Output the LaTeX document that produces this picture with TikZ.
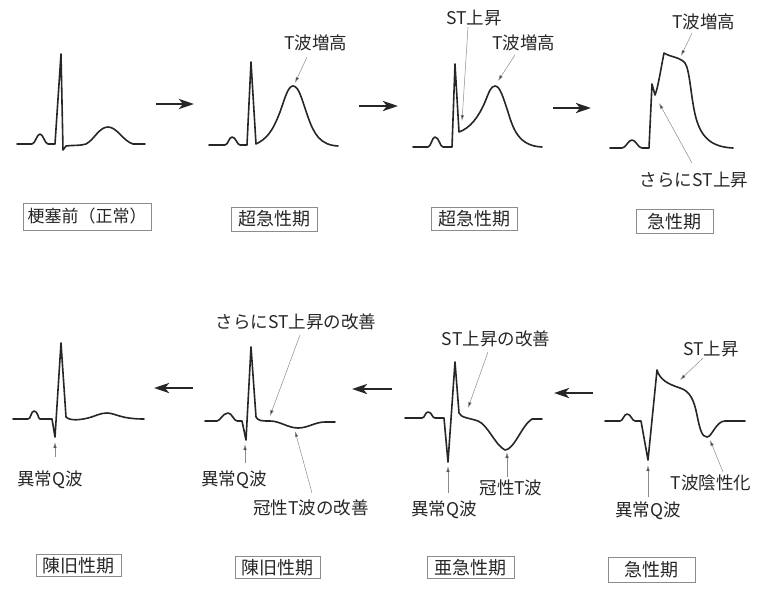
\documentclass[tikz,border=0pt]{standalone}
\usepackage{fontspec}
\setmainfont{Noto Sans CJK JP}
\usetikzlibrary{arrows.meta}
\tikzset{
  ecg/.style={line width=1.6pt, line join=round, line cap=round, black!85},
  bigarrow/.style={line width=2.8pt, black!85, -{Stealth[length=15pt,width=10pt,inset=4pt]}},
  ptr/.style={line width=0.5pt, black!45, -{Latex[length=6pt,width=3.5pt,fill=black!80]}},
  lbl/.style={inner sep=0pt, font=\fontsize{17.5}{19}\selectfont, text=black!85},
  stagebox/.style={draw=black!45, line width=0.6pt, inner sep=0pt, font=\fontsize{18}{19}\selectfont, text=black!85}
}
\begin{document}
\begin{tikzpicture}[x=1pt,y=-1pt]
\useasboundingbox (0,0) rectangle (761,592);
% ---------- top row ----------
% panel 1 normal
\draw[ecg] (17,144) -- (32,144) .. controls (35,144) and (37,134) .. (40,134) .. controls (43,134) and (45,144) .. (48,144) -- (55,144) -- (61,54) -- (63,150) -- (66,146) .. controls (72,145) and (80,146) .. (86,144) .. controls (94,140) and (99,127) .. (108,127) .. controls (117,127) and (123,141) .. (133,144) -- (145,144);
% panel 2
\draw[ecg] (209,145) -- (225,145) .. controls (228,145) and (229,137) .. (232,137) .. controls (236,137) and (237,145) .. (240,145) -- (247,145) -- (251,62) -- (256,144) .. controls (266,139) and (272,133) .. (280,112) .. controls (285,98) and (288,86) .. (293,86) .. controls (299,86) and (302,100) .. (308,117) .. controls (314,134) and (320,145) .. (338,146);
% panel 3
\draw[ecg] (413,147) -- (428,147) .. controls (431,147) and (432,137) .. (435,137) .. controls (439,137) and (440,147) .. (443,147) -- (452,147) -- (455,64) -- (459,132) .. controls (470,128) and (478,118) .. (485,102) .. controls (489,92) and (491,86) .. (495,86) .. controls (500,86) and (503,97) .. (508,112) .. controls (513,128) and (518,146) .. (542,147);
% panel 4
\draw[ecg] (610,148) -- (622,148) .. controls (626,148) and (628,140) .. (632,140) .. controls (636,140) and (638,148) .. (642,148) -- (649,148) -- (652,84) -- (655,95) .. controls (658,88) and (661,68) .. (664,53) .. controls (670,57) and (680,57) .. (685,63) .. controls (690,70) and (691,100) .. (696,118) .. controls (701,136) and (710,147) .. (733,148);

% big arrows top
\coordinate (ta1s) at (156,104); \coordinate (ta1e) at (194,104);
\coordinate (ta2s) at (359,106); \coordinate (ta2e) at (398,106);
\coordinate (ta3s) at (553,108); \coordinate (ta3e) at (591,108);
\draw[bigarrow] (ta1s) -- (ta1e);
\draw[bigarrow] (ta2s) -- (ta2e);
\draw[bigarrow] (ta3s) -- (ta3e);

% labels top
\node[lbl] (l2) at (316,43) {T波増高};
\coordinate (l2s) at (307,57); \coordinate (l2e) at (295,83);
\draw[ptr] (l2s) -- (l2e);

\node[lbl] (l3a) at (474,18) {ST上昇};
\coordinate (l3as) at (468,27); \coordinate (l3ae) at (462,121);
\draw[ptr] (l3as) -- (l3ae);
\node[lbl] (l3b) at (524,43) {T波増高};
\coordinate (l3bs) at (515,55); \coordinate (l3be) at (498,81);
\draw[ptr] (l3bs) -- (l3be);

\node[lbl] (l4a) at (704,22) {T波増高};
\coordinate (l4as) at (692,33); \coordinate (l4ae) at (681,56);
\draw[ptr] (l4as) -- (l4ae);
\node[lbl] (l4b) at (694,180) {さらにST上昇};
\coordinate (l4bs) at (692,163); \coordinate (l4be) at (659,103);
\draw[ptr] (l4bs) -- (l4be);

% boxes top
\node[stagebox, minimum width=128pt, minimum height=27pt, font=\fontsize{17}{19}\selectfont] (b1) at (87,216.5) {梗塞前（正常）};
\node[stagebox, minimum width=86pt, minimum height=24pt] (b2) at (274,219) {超急性期};
\node[stagebox, minimum width=86pt, minimum height=23pt] (b3) at (474,219) {超急性期};
\node[stagebox, minimum width=77pt, minimum height=24pt] (b4) at (674.5,221.5) {急性期};

% ---------- bottom row ----------
% panel 8 (old)
\draw[ecg] (13,419) -- (28,419) .. controls (31,419) and (31,411) .. (34,411) .. controls (38,411) and (38,419) .. (40,419) -- (52,419) -- (55,437) -- (61,343) -- (66,417) .. controls (70,421) and (80,420) .. (88,418) .. controls (96,416) and (100,413) .. (107,413) .. controls (115,413) and (120,419) .. (144,419);
% panel 7
\draw[ecg] (205,421) -- (217,421) .. controls (220,421) and (223,413) .. (228,413) .. controls (232,413) and (234,421) .. (237,421) -- (242,421) -- (246,440) -- (251,347) -- (256,417) .. controls (258,421) and (262,421) .. (270,421) .. controls (280,421) and (288,428) .. (298,428) .. controls (308,428) and (315,422) .. (325,422) -- (335,422);
% panel 6
\draw[ecg] (405,418) -- (422,418) .. controls (425,418) and (425,412) .. (428,412) .. controls (432,412) and (432,418) .. (435,418) -- (444,418) -- (448,462) -- (455,362) -- (459,413) .. controls (461,418) and (470,418) .. (478,421) .. controls (488,425) and (495,445) .. (505,450) .. controls (514,450) and (522,425) .. (532,419) -- (542,419);
% panel 5
\draw[ecg] (605,421) -- (620,421) .. controls (623,421) and (624,414) .. (627,414) .. controls (631,414) and (632,421) .. (635,421) -- (641,421) -- (648,460) -- (657,370) .. controls (660,380) and (668,384) .. (680,388) .. controls (690,391) and (694,400) .. (697,415) .. controls (700,430) and (702,437) .. (707,437) .. controls (712,437) and (716,421) .. (725,421) -- (745,421);

% big arrows bottom
\coordinate (ba1s) at (193,388); \coordinate (ba1e) at (154,388);
\coordinate (ba2s) at (392,389); \coordinate (ba2e) at (352,389);
\coordinate (ba3s) at (593,393); \coordinate (ba3e) at (554,393);
\draw[bigarrow] (ba1s) -- (ba1e);
\draw[bigarrow] (ba2s) -- (ba2e);
\draw[bigarrow] (ba3s) -- (ba3e);

% labels bottom
\node[lbl] (q8) at (50,480) {異常Q波};
\coordinate (q8s) at (55,457); \coordinate (q8e) at (55,442);
\draw[ptr] (q8s) -- (q8e);

\node[lbl] (l7a) at (296,322) {さらにST上昇の改善};
\coordinate (l7as) at (300,335); \coordinate (l7ae) at (270,416);
\draw[ptr] (l7as) -- (l7ae);
\node[lbl] (q7) at (234,480) {異常Q波};
\coordinate (q7s) at (245,463); \coordinate (q7e) at (245,444);
\draw[ptr] (q7s) -- (q7e);
\node[lbl] (l7b) at (311,508) {冠性T波の改善};
\coordinate (l7bs) at (312,493); \coordinate (l7be) at (295,431);
\draw[ptr] (l7bs) -- (l7be);

\node[lbl] (l6a) at (496,339) {ST上昇の改善};
\coordinate (l6as) at (488,352); \coordinate (l6ae) at (468,408);
\draw[ptr] (l6as) -- (l6ae);
\node[lbl] (q6) at (444,510) {異常Q波};
\coordinate (q6s) at (448,493); \coordinate (q6e) at (448,466);
\draw[ptr] (q6s) -- (q6e);
\node[lbl] (l6b) at (511,488) {冠性T波};
\coordinate (l6bs) at (507,477); \coordinate (l6be) at (507,452);
\draw[ptr] (l6bs) -- (l6be);

\node[lbl] (l5a) at (711,349) {ST上昇};
\coordinate (l5as) at (703,358); \coordinate (l5ae) at (680,380);
\draw[ptr] (l5as) -- (l5ae);
\node[lbl] (q5) at (648,511) {異常Q波};
\coordinate (q5s) at (648,497); \coordinate (q5e) at (648,465);
\draw[ptr] (q5s) -- (q5e);
\node[lbl] (l5b) at (711,483) {T波陰性化};
\coordinate (l5bs) at (723,472); \coordinate (l5be) at (710,440);
\draw[ptr] (l5bs) -- (l5be);

% boxes bottom
\node[stagebox, minimum width=85pt, minimum height=22pt] (b8) at (78.5,565.5) {陳旧性期};
\node[stagebox, minimum width=85pt, minimum height=22pt] (b7) at (277.5,567.5) {陳旧性期};
\node[stagebox, minimum width=87pt, minimum height=22pt] (b6) at (470.5,567.5) {亜急性期};
\node[stagebox, minimum width=87pt, minimum height=25pt] (b5) at (651.5,569.5) {急性期};
\end{tikzpicture}
\end{document}
